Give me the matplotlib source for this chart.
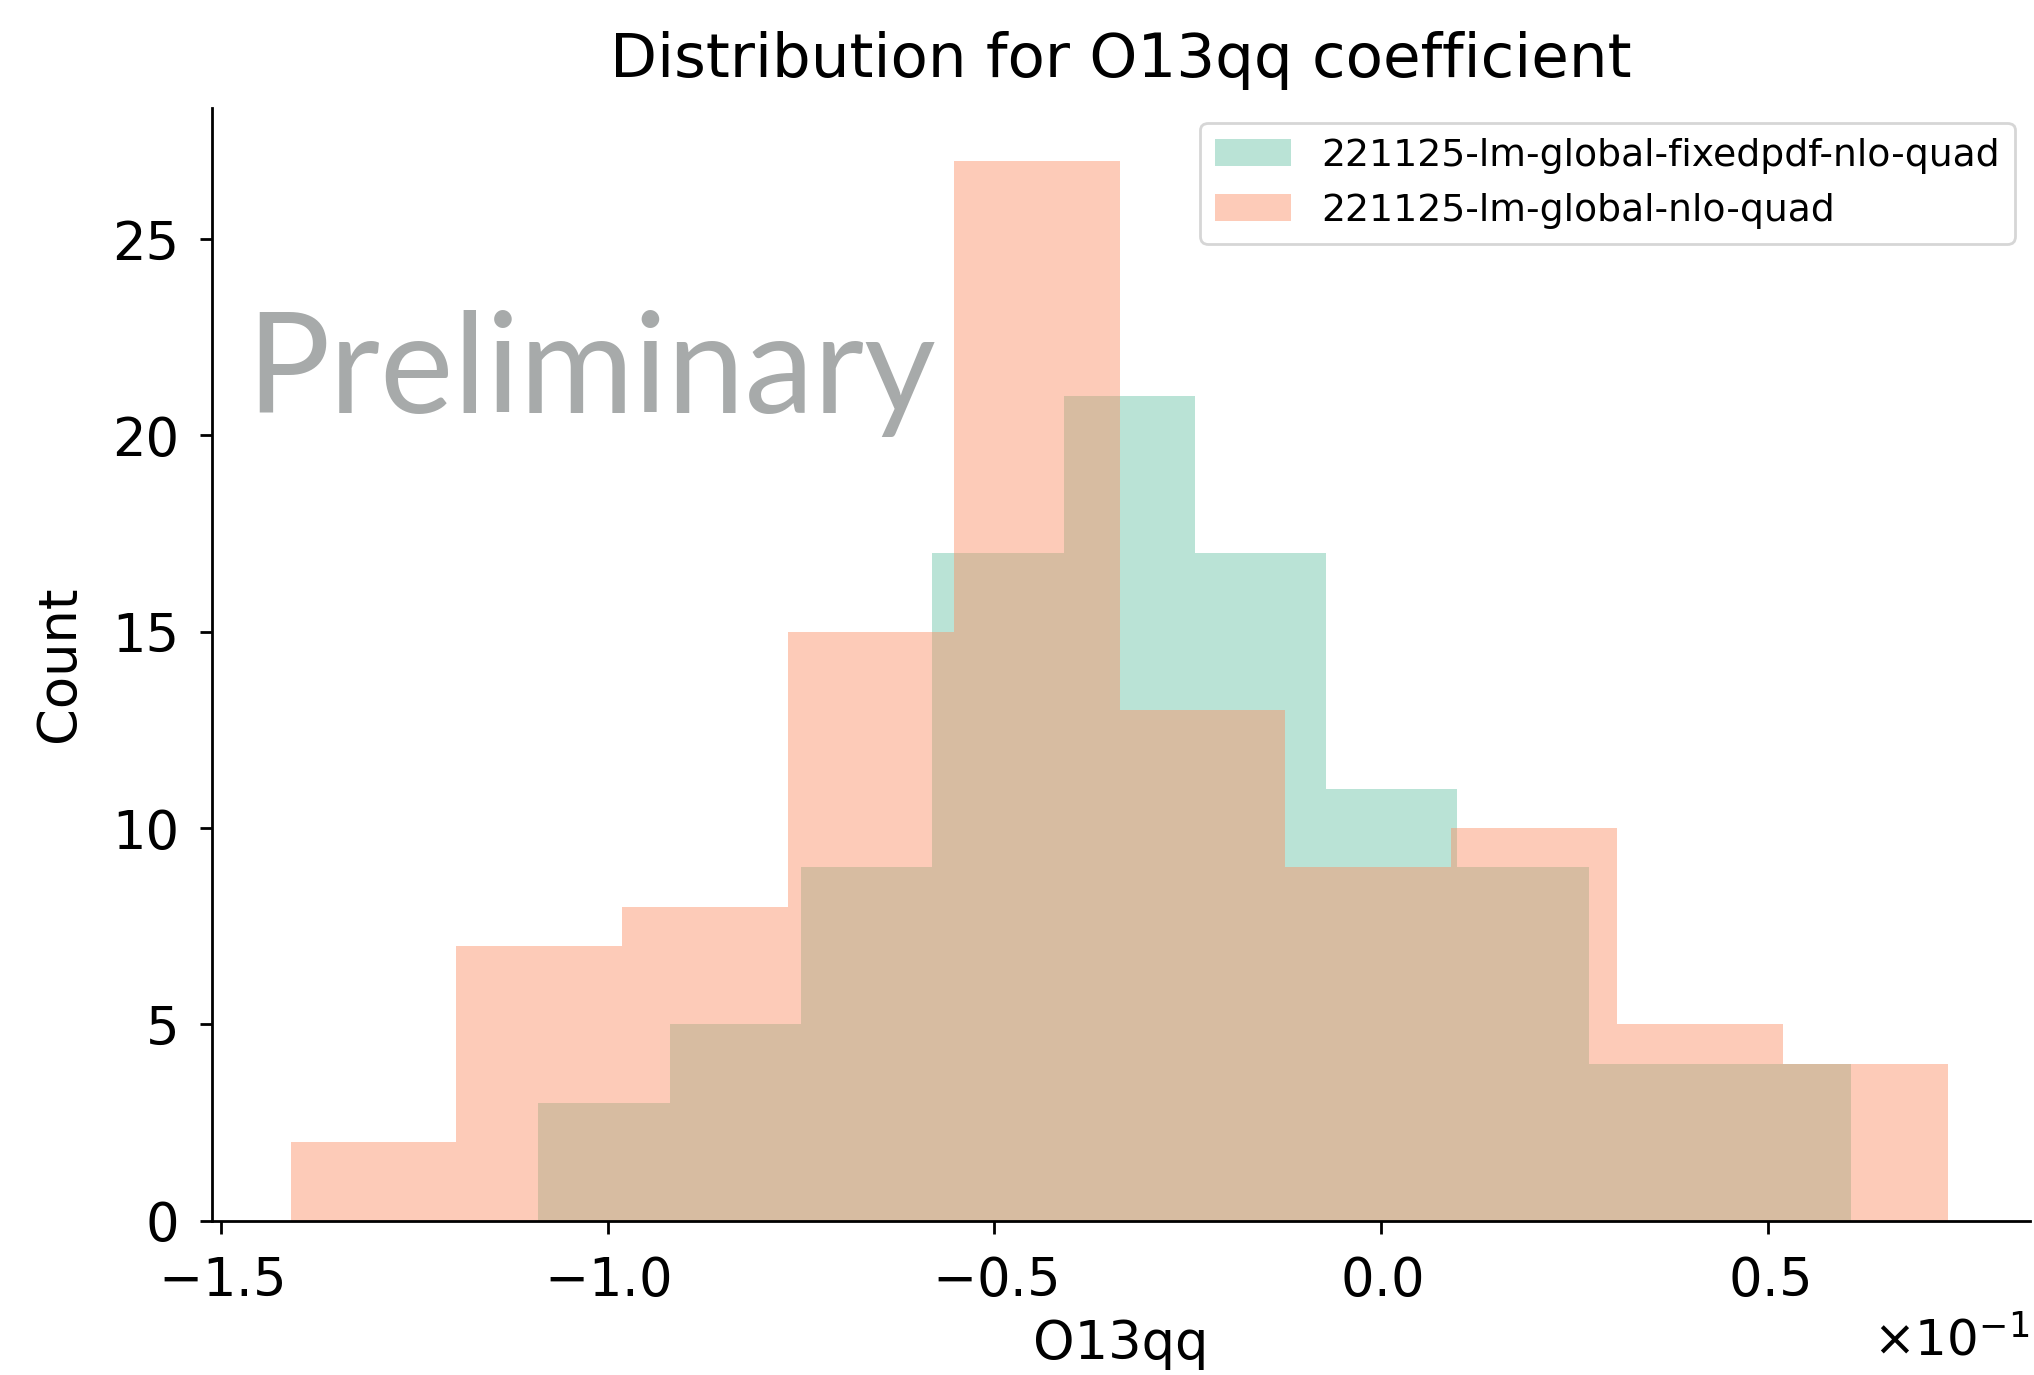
import numpy as np
import matplotlib
matplotlib.use('Agg')
import matplotlib.pyplot as plt

## DATA---------------------------------------------------------------------------
# bin edges (real units, axis shows x10^-1) and counts read off the picture
fixed_edges = [-0.10893, -0.09197, -0.07500, -0.05804, -0.04108, -0.02411,
               -0.00715, 0.00981, 0.02678, 0.04374, 0.06070]
fixed_counts = [3, 5, 9, 17, 21, 17, 11, 9, 4, 4]

nlo_edges = [-0.14095, -0.11953, -0.09811, -0.07668, -0.05526, -0.03384,
             -0.01242, 0.00900, 0.03042, 0.05185, 0.07327]
nlo_counts = [2, 7, 8, 15, 27, 13, 9, 10, 5, 4]

labels = ['221125-lm-global-fixedpdf-nlo-quad', '221125-lm-global-nlo-quad']
colors = ['#66c2a5', '#fc8d62']
## -------------------------------------------------------------------------------

fig = plt.figure(figsize=(10.17, 6.875), dpi=200)
ax = fig.add_axes([0.104, 0.1123, 0.894, 0.8094])

for edges, counts, lab, col in zip([fixed_edges, nlo_edges], [fixed_counts, nlo_counts], labels, colors):
    ax.hist(edges[:-1], bins=edges, weights=counts, color=col, alpha=0.45,
            label=lab, linewidth=0)

ax.set_xlim(-0.15117, 0.0838)
ax.set_ylim(0, 28.35)
ax.set_yticks([0, 5, 10, 15, 20, 25])
ax.set_xticks([-0.15, -0.10, -0.05, 0.0, 0.05])
ax.ticklabel_format(axis='x', style='sci', scilimits=(0, 0), useMathText=True)
ax.xaxis.get_offset_text().set_fontsize(18)

ax.spines['top'].set_visible(False)
ax.spines['right'].set_visible(False)
for s in ['left', 'bottom']:
    ax.spines[s].set_linewidth(1.0)
ax.tick_params(labelsize=19, length=4.5, width=1.0)
ax.tick_params(axis='y', pad=7)
ax.tick_params(axis='x', pad=8)

ax.set_title('Distribution for O13qq coefficient', fontsize=22, pad=11)
ax.set_xlabel('O13qq', fontsize=19, labelpad=4)
ax.set_ylabel('Count', fontsize=19, labelpad=10)

# watermark
ax.text(0.019, 0.726, 'Preliminary', transform=ax.transAxes, fontsize=50,
        family='Lato', color='#a7aaaa', ha='left', va='baseline')

ax.legend(loc='upper right', fontsize=13.6, borderaxespad=0.4)

fig.savefig('out.png', dpi=200)
